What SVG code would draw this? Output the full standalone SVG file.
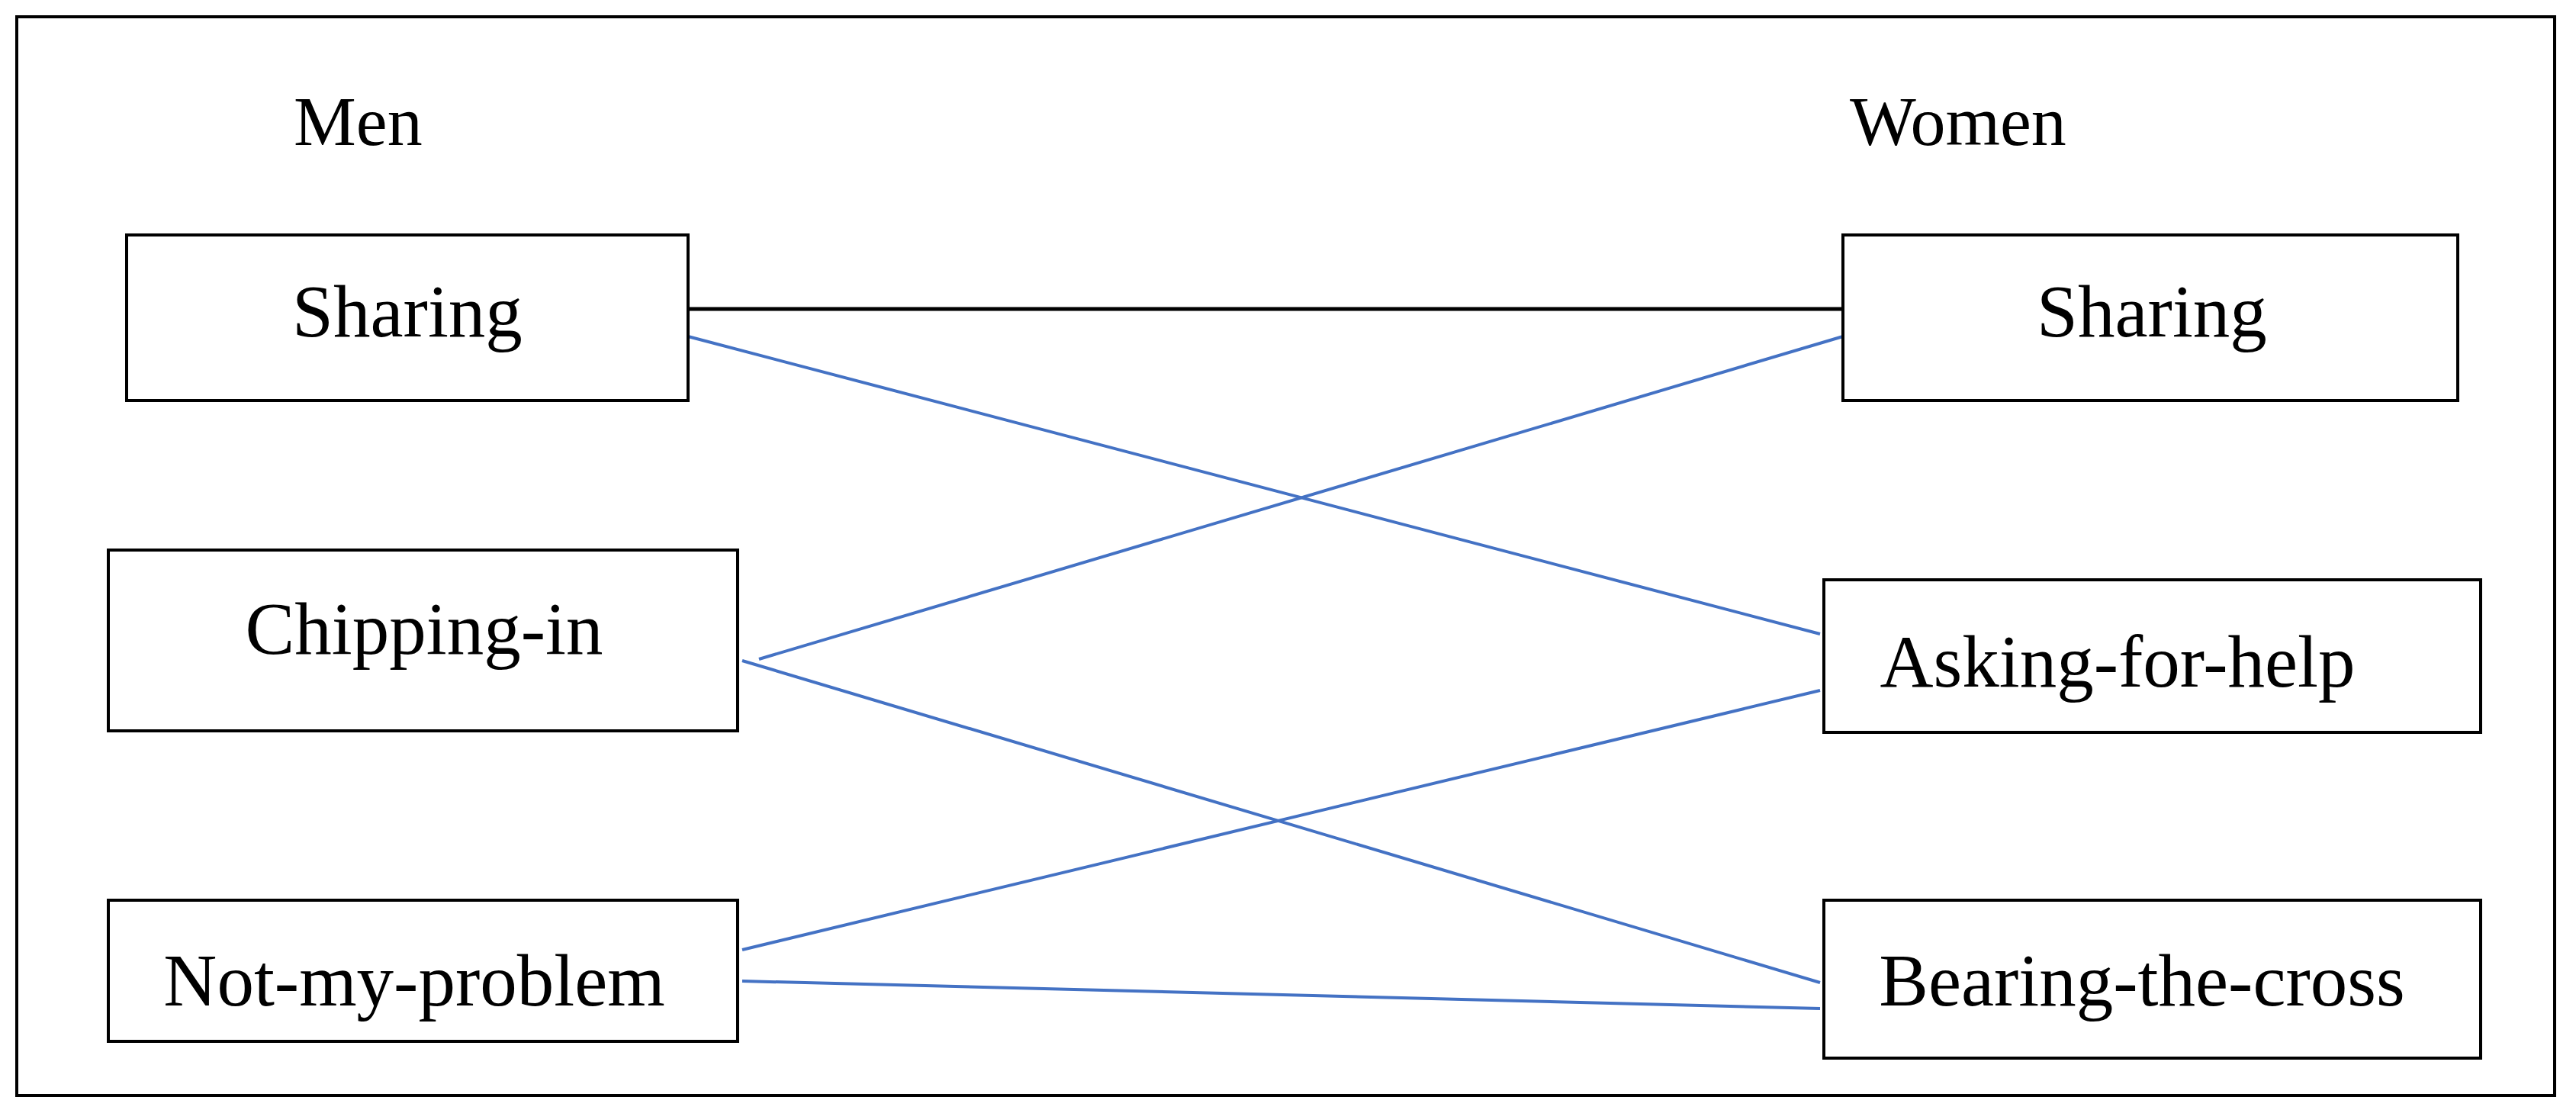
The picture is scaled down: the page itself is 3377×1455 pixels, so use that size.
<svg xmlns="http://www.w3.org/2000/svg" width="3377" height="1455" viewBox="0 0 3377 1455">
<style>
.b{fill:#fff;stroke:#000;stroke-width:4}
.t{font-family:"Liberation Serif","Times New Roman",serif;font-size:97px;fill:#000;text-anchor:middle}
.h{font-family:"Liberation Serif","Times New Roman",serif;font-size:92px;fill:#000}
.bl{stroke:#4472c4;stroke-width:4;fill:none}
</style>
<rect x="0" y="0" width="3377" height="1455" fill="#fff"/>
<rect x="22" y="22" width="3327" height="1414" fill="none" stroke="#000" stroke-width="4"/>
<text class="h" x="385" y="190">Men</text>
<text class="h" x="2425" y="190">Women</text>
<g id="connectors">
<line x1="902" y1="405" x2="2416" y2="405" stroke="#000" stroke-width="5"/>
<line class="bl" x1="902" y1="441" x2="2386" y2="831"/>
<line class="bl" x1="995" y1="864" x2="2416" y2="441"/>
<line class="bl" x1="973" y1="866" x2="2386" y2="1288"/>
<line class="bl" x1="973" y1="1245" x2="2386" y2="905"/>
<line class="bl" x1="973" y1="1286" x2="2386" y2="1322"/>
</g>
<g id="m-sharing"><rect class="b" x="166" y="308" width="736" height="217"/><text class="t" x="534" y="441">Sharing</text></g>
<g id="m-chipping"><rect class="b" x="142" y="721" width="825" height="237"/><text class="t" x="556" y="857">Chipping-in</text></g>
<g id="m-notmy"><rect class="b" x="142" y="1180" width="825" height="185"/><text class="t" x="543" y="1318">Not-my-problem</text></g>
<g id="w-sharing"><rect class="b" x="2416" y="308" width="806" height="217"/><text class="t" x="2821" y="441">Sharing</text></g>
<g id="w-asking"><rect class="b" x="2391" y="760" width="861" height="200"/><text class="t" x="2776" y="900">Asking-for-help</text></g>
<g id="w-bearing"><rect class="b" x="2391" y="1180" width="861" height="207"/><text class="t" x="2808" y="1318">Bearing-the-cross</text></g>
</svg>
